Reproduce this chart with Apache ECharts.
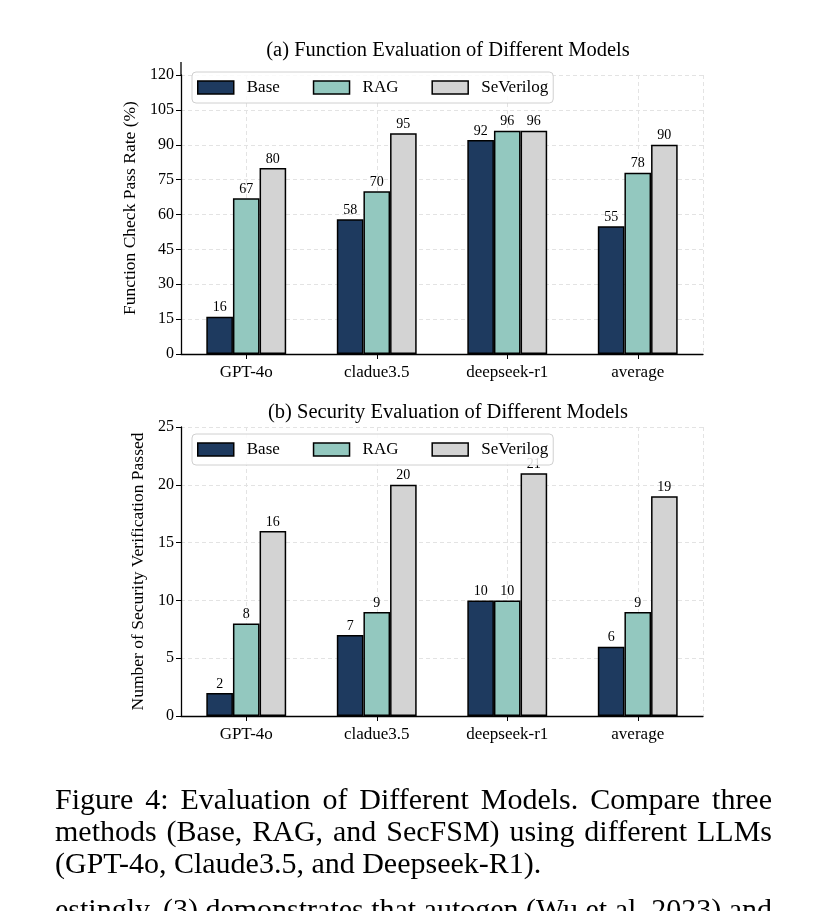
<!DOCTYPE html>
<html>
<head>
<meta charset="utf-8">
<script src="https://cdn.jsdelivr.net/npm/echarts@6/dist/echarts.min.js"></script>
<style>
html,body{margin:0;padding:0;background:#fff;}
#c{width:830px;height:911px;}
</style>
</head>
<body>
<div id="c"></div>
<script>
const categories = ['GPT-4o', 'cladue3.5', 'deepseek-r1', 'average'];
const seriesNames = ['Base', 'RAG', 'SeVerilog'];
const funcBase = [16, 58, 92, 55];
const funcRAG = [67, 70, 96, 78];
const funcSeV = [80, 95, 96, 90];
const secBase = [2, 7, 10, 6];
const secRAG = [8, 9, 10, 9];
const secSeV = [16, 20, 21, 19];
const titleA = '(a) Function Evaluation of Different Models';
const titleB = '(b) Security Evaluation of Different Models';
const yNameA = 'Function Check Pass Rate (%)';
const yNameB = 'Number of Security Verification Passed';
const captionLines = [
  'Figure 4: Evaluation of Different Models. Compare three',
  'methods (Base, RAG, and SecFSM) using different LLMs',
  '(GPT-4o, Claude3.5, and Deepseek-R1).'
];
const cutLine = 'estingly, (3) demonstrates that autogen (Wu et al. 2023) and';

const colors = ['#1e3a5f', '#93c8bf', '#d3d3d3'];
const FONT = '"Liberation Serif", "Times New Roman", serif';

const chart = echarts.init(document.getElementById('c'), null, {renderer: 'canvas'});

function gridLine() {
  return {show: true, lineStyle: {color: '#e3e3e3', width: 1, type: [4, 3]}};
}
function xAxis(gi) {
  return {
    type: 'category', gridIndex: gi, data: categories,
    axisLine: {lineStyle: {color: '#000', width: 1.3}},
    axisTick: {show: true, alignWithLabel: true, length: 5, lineStyle: {color: '#000', width: 1}},
    axisLabel: {color: '#000', fontFamily: FONT, fontSize: 17, margin: 10},
    splitLine: {show: false}
  };
}
// helper axis with half-category slots, used only for the vertical grid lines at category centres
function gridXAxis(gi) {
  const slots = [];
  categories.forEach(() => { slots.push(''); slots.push(''); });
  return {
    type: 'category', gridIndex: gi, data: slots, position: 'bottom',
    axisLine: {show: false}, axisTick: {show: false}, axisLabel: {show: false},
    splitLine: {show: true, interval: (i) => i % 2 === 1, lineStyle: {color: '#e3e3e3', width: 1, type: [4, 3]}}
  };
}
function yAxis(gi, max, interval, name, gap, pad) {
  return {
    type: 'value', gridIndex: gi, min: 0, max: max, interval: interval,
    name: name, nameLocation: 'middle', nameGap: gap,
    nameTextStyle: {color: '#000', fontFamily: FONT, fontSize: 17.5, padding: pad},
    axisLine: {show: true, lineStyle: {color: '#000', width: 1.3}},
    axisTick: {show: true, length: 5, lineStyle: {color: '#000', width: 1}},
    axisLabel: {color: '#000', fontFamily: FONT, fontSize: 16, margin: 7},
    splitLine: gridLine()
  };
}
function bar(name, data, idx, gi) {
  return {
    type: 'bar', name: name, data: data,
    xAxisIndex: gi, yAxisIndex: gi,
    barWidth: '20.4%', barGap: '0%',
    itemStyle: {color: colors[idx], borderColor: '#000', borderWidth: 1.5},
    label: {show: true, position: 'top', distance: 2, color: '#000', fontFamily: FONT, fontSize: 14},
    emphasis: {disabled: true}
  };
}
function legend(top) {
  return {
    data: seriesNames.map(n => ({name: n, icon: 'rect'})), left: 192, top: top, orient: 'horizontal',
    itemWidth: 36, itemHeight: 13, itemGap: 33,
    backgroundColor: 'rgba(255,255,255,0.85)', borderColor: '#d0d0d0', borderWidth: 1, borderRadius: 4,
    padding: [7, 5, 7, 5],
    textStyle: {color: '#000', fontFamily: FONT, fontSize: 17, padding: [0, 0, 0, 8]},
    itemStyle: {borderColor: '#000', borderWidth: 1.5},
    selectedMode: false
  };
}

// justified caption text, laid out word by word
const meas = document.createElement('canvas').getContext('2d');
const CAP_FONT = '30px ' + FONT;
meas.font = CAP_FONT;
function lineTexts(text, y, justify) {
  const words = text.split(' ');
  const left = 55, right = 772;
  if (!justify) {
    return [{type: 'text', x: left, y: y, style: {text: text, fill: '#000', font: CAP_FONT, align: 'left', verticalAlign: 'middle'}}];
  }
  const widths = words.map(w => meas.measureText(w).width);
  const total = widths.reduce((a, b) => a + b, 0);
  const gap = (right - left - total) / (words.length - 1);
  let x = left;
  return words.map((w, i) => {
    const el = {type: 'text', x: x, y: y, style: {text: w, fill: '#000', font: CAP_FONT, align: 'left', verticalAlign: 'middle'}};
    x += widths[i] + gap;
    return el;
  });
}
let captionEls = [];
captionLines.forEach((t, i) => { captionEls = captionEls.concat(lineTexts(t, 801 + i * 32, i < 2)); });
captionEls = captionEls.concat(lineTexts(cutLine, 911, true));

const option = {
  animation: false,
  backgroundColor: '#fff',
  title: [
    {text: titleA, left: 443, top: 35, textAlign: 'center', textStyle: {color: '#000', fontFamily: FONT, fontSize: 20.5, fontWeight: 'normal'}},
    {text: titleB, left: 443, top: 397, textAlign: 'center', textStyle: {color: '#000', fontFamily: FONT, fontSize: 20.5, fontWeight: 'normal'}}
  ],
  legend: [legend(72), legend(434)],
  grid: [
    {left: 181, top: 75, width: 522, height: 279},
    {left: 181, top: 427, width: 522, height: 289}
  ],
  xAxis: [xAxis(0), xAxis(1), gridXAxis(0), gridXAxis(1)],
  yAxis: [yAxis(0, 120, 15, yNameA, 42, [0, 0, 0, 13]), yAxis(1, 25, 5, yNameB, 33, 0)],
  series: [
    bar('Base', funcBase, 0, 0), bar('RAG', funcRAG, 1, 0), bar('SeVerilog', funcSeV, 2, 0),
    bar('Base', secBase, 0, 1), bar('RAG', secRAG, 1, 1), bar('SeVerilog', secSeV, 2, 1)
  ],
  graphic: [
    // upper extension of the left spine of panel (a), above the 120 tick
    {type: 'line', shape: {x1: 181, y1: 62, x2: 181, y2: 75}, style: {stroke: '#000', lineWidth: 1.3}, z: 10}
  ].concat(captionEls)
};
chart.setOption(option);
</script>
</body>
</html>
